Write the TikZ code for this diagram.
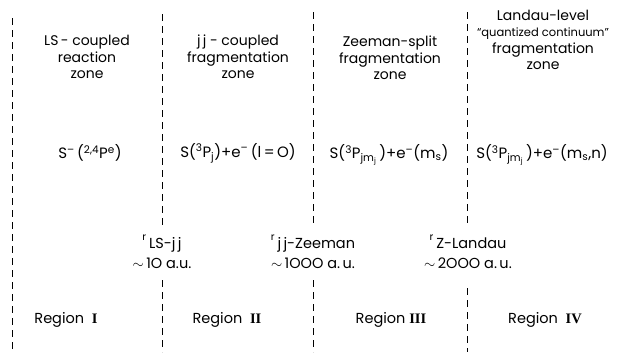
\documentclass[tikz,border=0pt]{standalone}
\usepackage{fontspec}
\setmainfont{Poppins}
\newfontfamily\romfont{Liberation Serif}
\begin{document}
\begin{tikzpicture}[x=1pt,y=-1pt,
  zone/.style={align=center,font=\fontsize{14}{16.5}\selectfont,inner sep=0pt},
  formula/.style={font=\fontsize{15}{18}\selectfont,inner sep=0pt},
  rlab/.style={align=center,font=\fontsize{14.5}{23}\selectfont,inner sep=0pt},
  reglab/.style={font=\fontsize{14.5}{17}\selectfont,inner sep=0pt},
  divider/.style={line width=0.9pt,dash pattern=on 7pt off 5pt}]
\useasboundingbox (0,0) rectangle (620,356);
% dividers
\coordinate (d1a) at (12,18);  \coordinate (d1b) at (12,352);
\coordinate (d2a) at (162,14); \coordinate (d2b) at (162,226);
\coordinate (d2c) at (162,280); \coordinate (d2d) at (162,352);
\coordinate (d3a) at (313,12); \coordinate (d3b) at (313,226);
\coordinate (d3c) at (313,280); \coordinate (d3d) at (313,352);
\coordinate (d4a) at (467,12); \coordinate (d4b) at (467,224);
\coordinate (d4c) at (467,288); \coordinate (d4d) at (467,352);
\draw[divider] (d1a) -- (d1b);
\draw[divider] (d2a) -- (d2b);
\draw[divider] (d2c) -- (d2d);
\draw[divider] (d3a) -- (d3b);
\draw[divider] (d3c) -- (d3d);
\draw[divider] (d4a) -- (d4b);
\draw[divider] (d4c) -- (d4d);
% headers
\node[zone] (z1) at (87,57) {LS\,- coupled\\reaction\\zone};
\node[zone] (z2) at (238,57) {j\,j - coupled\\fragmentation\\zone};
\node[zone] (z3) at (390,58) {Zeeman-split\\fragmentation\\zone};
\node[zone] (z4) at (543,40) {Landau-level\\{\fontsize{11.5}{16.5}\selectfont ``quantized continuum''}\\fragmentation\\zone};
% formulas
\node[formula] (f1) at (90,153) {S\textsuperscript{--}\,(\textsuperscript{2,4}P\textsuperscript{e})};
\node[formula] (f2) at (238,153) {S(\textsuperscript{3}P\textsubscript{j})+e\textsuperscript{--}\,(l\,=\,O)};
\node[formula] (f3) at (389,155) {S(\textsuperscript{3}P\textsubscript{jm\textsubscript{j}}\,)+e\textsuperscript{--}(m\textsubscript{s})};
\node[formula] (f4) at (542,155) {S(\textsuperscript{3}P\textsubscript{jm\textsubscript{j}}\,)+e\textsuperscript{--}(m\textsubscript{s},n)};
% r labels
\node[rlab] (r1) at (162,252) {\textsuperscript{r}\,\raisebox{-0.3ex}{LS-j\,j}\\$\sim$\,1O a.u.};
\node[rlab] (r2) at (313,252) {\textsuperscript{r}\,\raisebox{-0.3ex}{j\,j-Zeeman}\\$\sim$\,1OOO a.\,u.};
\node[rlab] (r3) at (468,252) {\textsuperscript{r}\,\raisebox{-0.3ex}{Z-Landau}\\$\sim$\,2OOO a.\,u.};
% regions
\node[reglab] (g1) at (66,320) {Region\ \ {\romfont\bfseries I}};
\node[reglab] (g2) at (227,320) {Region\ \ {\romfont\bfseries II}};
\node[reglab] (g3) at (391,320) {Region\ {\romfont\bfseries III}};
\node[reglab] (g4) at (545,320) {Region\ \ {\romfont\bfseries IV}};
\end{tikzpicture}
\end{document}
